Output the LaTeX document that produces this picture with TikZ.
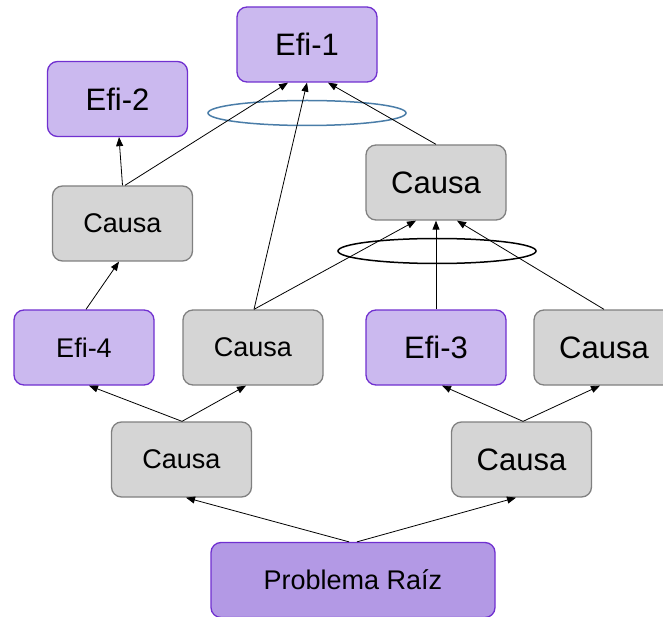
\documentclass[tikz,border=0pt]{standalone}
\usepackage{fontspec}
\setmainfont{Liberation Sans}
\usetikzlibrary{arrows.meta,shapes.geometric}
\definecolor{efifill}{RGB}{203,185,239}
\definecolor{efidraw}{RGB}{112,48,208}
\definecolor{rootfill}{RGB}{179,153,229}
\definecolor{causefill}{RGB}{213,213,213}
\definecolor{causedraw}{RGB}{128,128,128}
\definecolor{andblue}{RGB}{74,125,168}
\tikzset{
  box/.style={rectangle, rounded corners=10pt, minimum width=140pt, minimum height=75pt, inner sep=0pt, line width=1.3pt},
  efibox/.style={box, fill=efifill, draw=efidraw},
  causebox/.style={box, fill=causefill, draw=causedraw},
  rootbox/.style={box, fill=rootfill, draw=efidraw, minimum width=284pt},
  big/.style={font=\fontsize{31}{36}\selectfont},
  small/.style={font=\fontsize{27}{32}\selectfont},
  conn/.style={draw=black, line width=0.8pt, -{Triangle[length=9pt,width=7pt]}},
  andring/.style={ellipse, minimum width=198pt, minimum height=25pt, inner sep=0pt, line width=1.5pt}
}
\begin{document}
\begin{tikzpicture}[x=1pt,y=1pt]
\useasboundingbox (0,0) rectangle (663,-617);
\clip (0,0) rectangle (663,-617);
% nodes
\node[efibox, big] (e1) at (307,-44.5) {Efi-1};
\node[efibox, big] (e2) at (117.5,-99) {Efi-2};
\node[causebox, small] (cL) at (122.5,-223.5) {Causa};
\node[causebox, big] (cU) at (436,-182.5) {Causa};
\node[efibox, small] (e4) at (84,-347.5) {Efi-4};
\node[causebox, small] (cM) at (253,-347.5) {Causa};
\node[efibox, big] (e3) at (436,-347.5) {Efi-3};
\node[causebox, big] (cR) at (604,-347.5) {Causa};
\node[causebox, small] (cBL) at (181.5,-459.5) {Causa};
\node[causebox, big] (cBR) at (521.5,-459.5) {Causa};
\node[rootbox, small] (pr) at (353,-580) {Problema Ra\'{\i}z};
% and rings
\node[andring, draw=andblue] (and1) at (307,-113) {};
\node[andring, draw=black] (and2) at (437,-251) {};
% connectors
\draw[conn] (cL.north) -- ([xshift=1.5pt]e2.south);
\draw[conn] ([xshift=2.5pt]cL.north) -- ([xshift=-19pt]e1.south);
\draw[conn] ([xshift=1pt]cM.north) -- (e1.south);
\draw[conn] (cU.north) -- ([xshift=21pt]e1.south);
\draw[conn] ([xshift=1pt]cM.north) -- ([xshift=-20pt]cU.south);
\draw[conn] (e3.north) -- (cU.south);
\draw[conn] (cR.north) -- ([xshift=21pt]cU.south);
\draw[conn] ([xshift=2pt]e4.north) -- ([xshift=-3.5pt]cL.south);
\draw[conn] ([xshift=0.5pt]cBL.north) -- ([xshift=5pt]e4.south);
\draw[conn] ([xshift=0.5pt]cBL.north) -- ([xshift=-7pt]cM.south);
\draw[conn] ([xshift=1.5pt]cBR.north) -- ([xshift=6pt]e3.south);
\draw[conn] ([xshift=1.5pt]cBR.north) -- ([xshift=-4pt]cR.south);
\draw[conn] ([xshift=-4pt]pr.north) -- ([xshift=4.5pt]cBL.south);
\draw[conn] ([xshift=4pt]pr.north) -- ([xshift=-5.5pt]cBR.south);
\end{tikzpicture}
\end{document}
